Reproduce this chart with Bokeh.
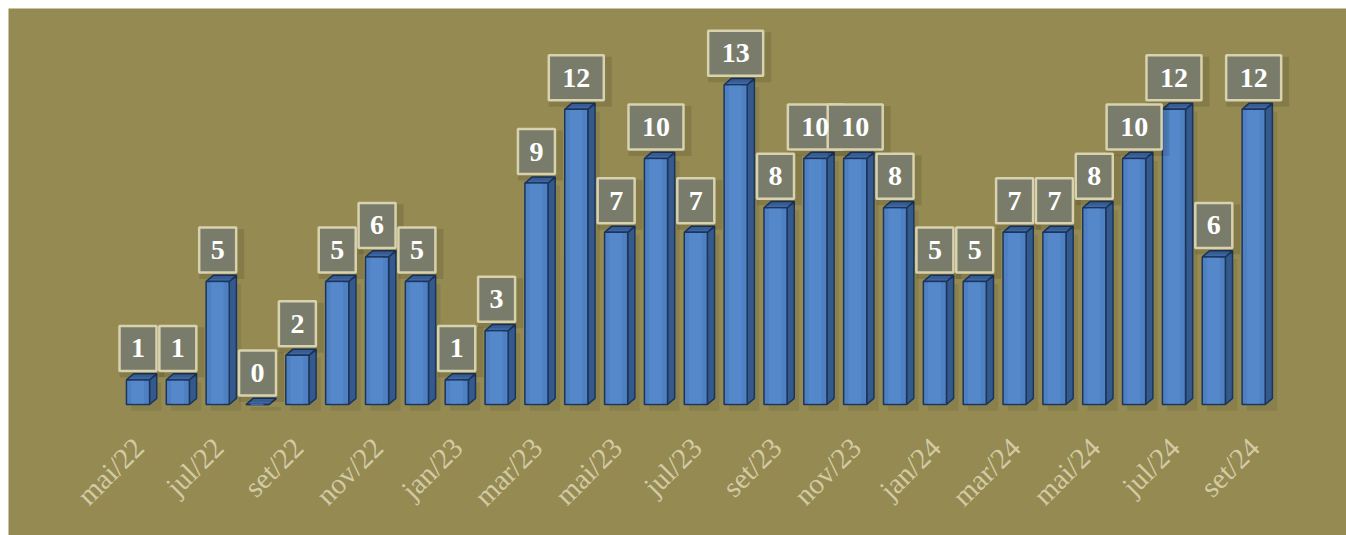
import numpy as np
from bokeh.plotting import figure
from bokeh.models import ColumnDataSource, Range1d
from bokeh.core.properties import value
from bokeh.embed import file_html
from bokeh.resources import INLINE

months = ["mai/22", "jun/22", "jul/22", "ago/22", "set/22", "out/22", "nov/22", "dez/22",
          "jan/23", "fev/23", "mar/23", "abr/23", "mai/23", "jun/23", "jul/23", "ago/23",
          "set/23", "out/23", "nov/23", "dez/23", "jan/24", "fev/24", "mar/24", "abr/24",
          "mai/24", "jun/24", "jul/24", "ago/24", "set/24"]
counts = [1, 1, 5, 0, 2, 5, 6, 5, 1, 3, 9, 12, 7, 10, 7, 13, 8, 10, 10, 8, 5, 5, 7, 7, 8, 10, 12, 6, 12]
tick_labels = months[::2]

p = figure(width=1346, height=535, output_backend="svg", toolbar_location=None,
           x_range=Range1d(-3.25, 30.33), y_range=Range1d(-5.325, 16.098),
           min_border_left=8, min_border_top=8, min_border_right=0, min_border_bottom=0,
           background_fill_color="#948A52", border_fill_color="#FFFFFF")
p.axis.visible = False
p.grid.visible = False
p.outline_line_color = None

x = np.arange(len(counts), dtype=float)
v = np.array(counts, dtype=float)
w = 0.58   # front face width (x units)
dx = 0.18  # depth offset x
dy = 0.25  # depth offset y

# soft shadow behind bars
p.quad(left=x - w/2 + 0.12, right=x + w/2 + dx + 0.12, bottom=-0.25, top=v - 0.1,
       fill_color="#000000", fill_alpha=0.07, line_color=None)

# side faces
side_xs = [[xi + w/2, xi + w/2 + dx, xi + w/2 + dx, xi + w/2] for xi in x]
side_ys = [[0, dy, vi + dy, vi] for vi in v]
p.patches(side_xs, side_ys, fill_color="#34598C", line_color="#1C355C", line_width=1.5)
# top faces
top_xs = [[xi - w/2, xi - w/2 + dx, xi + w/2 + dx, xi + w/2] for xi in x]
top_ys = [[vi, vi + dy, vi + dy, vi] for vi in v]
p.patches(top_xs, top_ys, fill_color="#3E67A3", line_color="#1C355C", line_width=1.5)
# front faces
p.quad(left=x - w/2, right=x + w/2, bottom=0, top=v, fill_color="#4E80C2",
       line_color="#1C355C", line_width=1.5)
# lighter stripe on front
p.quad(left=x - w/2 + 0.12, right=x + w/2 - 0.14, bottom=0.03, top=v - 0.03,
       fill_color="#5A8ED0", fill_alpha=0.6, line_color=None)

# value labels
lbl = [str(c) for c in counts]
bw = [19 + 18 * len(s) for s in lbl]
src = ColumnDataSource(dict(x=x, y=v + 1.28, xs=x + 0.1, ys=v + 1.12, t=lbl, bw=bw,
                            bws=[b + 8 for b in bw]))
p.rect(x="xs", y="ys", width="bws", height=50, width_units="screen", height_units="screen",
       source=src, fill_color="#000000", fill_alpha=0.10, line_color=None)
p.rect(x="x", y="y", width="bw", height=45, width_units="screen", height_units="screen",
       source=src, fill_color="#7A7C6B", line_color="#D8D2AE", line_width=2.5)
p.text(x="x", y="y", text="t", source=src, text_align="center", text_baseline="middle",
       text_font=value("Liberation Serif"), text_font_style="bold", text_font_size="28px",
       text_color="#FFFFFF")

# x tick labels
tx = x[::2]
p.text(x=tx + 0.02, y=np.full(len(tx), -1.55), text=tick_labels, angle=np.pi/4,
       text_align="right", text_baseline="middle",
       text_font=value("Liberation Serif"), text_font_size="29px", text_color="#DAD4B0",
       text_alpha=0.9)

open("out.html", "w").write(file_html(p, INLINE))
